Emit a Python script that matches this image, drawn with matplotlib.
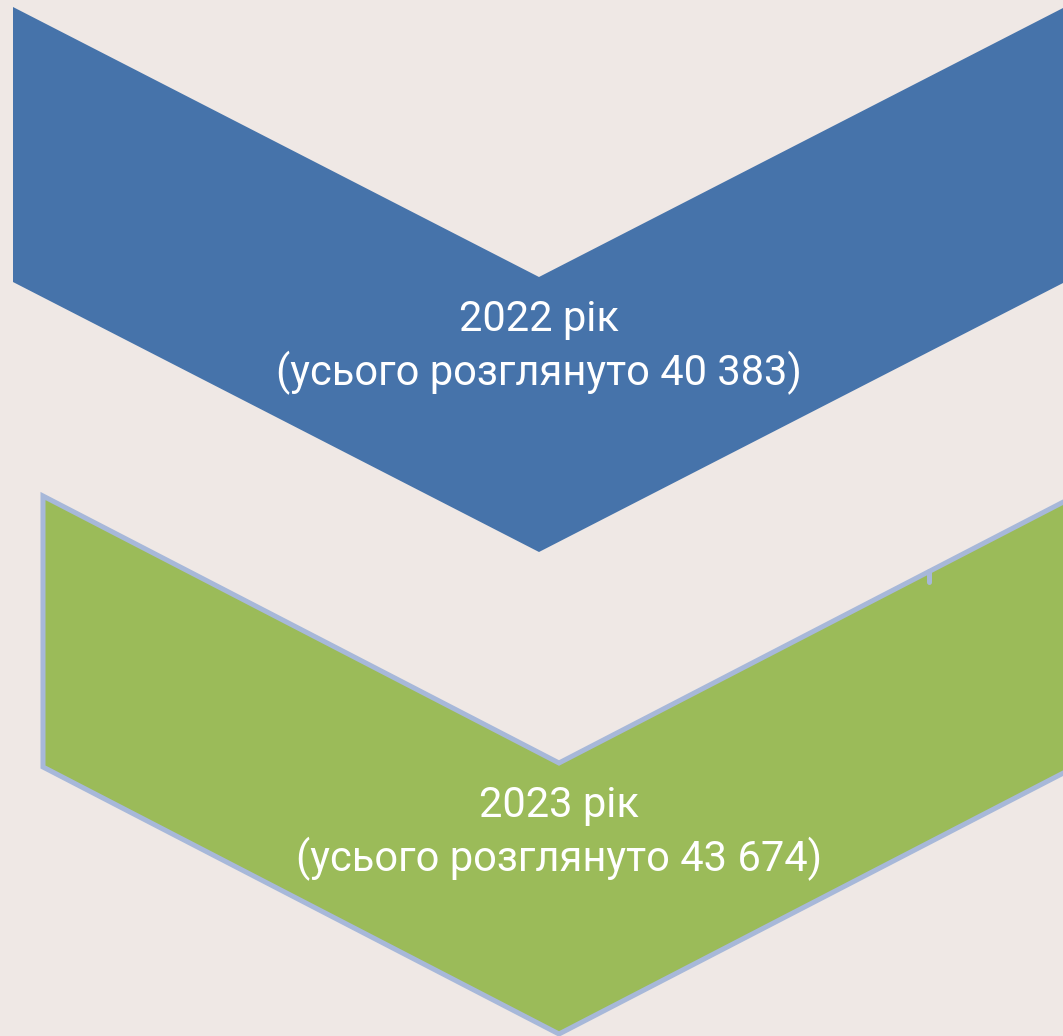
import matplotlib
matplotlib.use('Agg')
import matplotlib.pyplot as plt
from matplotlib.patches import Polygon

W, H = 1063, 1036

years = ['2022 рік', '2023 рік']
totals = ['40 383', '43 674']
fills = ['#4673aa', '#9bbb59']
edges = ['none', '#a7b8d9']

# chevron geometry in pixels: left x, top y, notch x, depth, height
chevrons = [
    (13, 7, 539, 270, 275),
    (43, 496, 559, 267, 271),
]

BG = '#efe8e5'


def chevron_points(left, top, mid, depth, height):
    right = 2 * mid - left
    return [
        (left, top), (mid, top + depth), (right, top),
        (right, top + height), (mid, top + depth + height), (left, top + height),
    ]


fig = plt.figure(figsize=(W / 100, H / 100), dpi=100)
fig.patch.set_facecolor(BG)
ax = fig.add_axes([0, 0, 1, 1])
ax.set_xlim(0, W)
ax.set_ylim(H, 0)
ax.axis('off')

for i, (left, top, mid, depth, height) in enumerate(chevrons):
    pts = chevron_points(left, top, mid, depth, height)
    lw = 0 if edges[i] == 'none' else 3.6
    ax.add_patch(Polygon(pts, closed=True, facecolor=fills[i],
                         edgecolor=edges[i], linewidth=lw, joinstyle='miter'))
    cy = top + depth + 42
    ax.text(mid, cy, years[i], color='white', fontsize=30, family='Roboto',
            ha='center', va='center')
    ax.text(mid, cy + 54, '(усього розглянуто ' + totals[i] + ')', color='white',
            fontsize=30, family='Roboto', ha='center', va='center')

# small stray tick on the green border
ax.plot([929, 929], [571, 582], color='#a7b8d9', lw=3.6, solid_capstyle='round')

fig.savefig('out.png', dpi=100, facecolor=BG)
